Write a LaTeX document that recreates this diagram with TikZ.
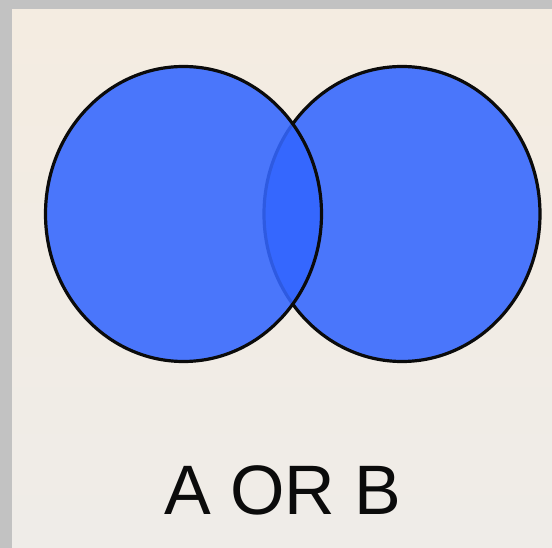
\documentclass[tikz,border=0pt]{standalone}
\usepackage{fontspec}
\setsansfont{Liberation Sans}
\usetikzlibrary{positioning,shapes.geometric}
\definecolor{vennblue}{HTML}{3366FF}
\definecolor{vennink}{HTML}{0B0B0B}
\definecolor{vennframe}{HTML}{C2C2C2}
\definecolor{vennpaper}{HTML}{F4ECE1}
\definecolor{vennpaper2}{HTML}{EFECE8}

\begin{document}
\begin{tikzpicture}[x=1pt, y=-1pt,
  set/.style={ellipse, draw=vennink, line width=3.2pt, fill=vennblue, fill opacity=0.88, draw opacity=1,
    minimum width=276pt, minimum height=295pt, inner sep=0pt},
  caption/.style={font=\sffamily\fontsize{70}{70}\selectfont, text=vennink, inner sep=0pt}]
% frame and paper
\fill[vennframe] (0,0) rectangle (552,548);
\shade[top color=vennpaper, bottom color=vennpaper2] (12,10) rectangle (552,548);
\useasboundingbox (0,0) rectangle (552,548);
% sets
\node[set] (setB) at (402,214) {};
\node[set] (setA) at (183.5,214) {};
% label
\node[caption] (lbl) at (283,490) {A OR B};
\end{tikzpicture}
\end{document}
